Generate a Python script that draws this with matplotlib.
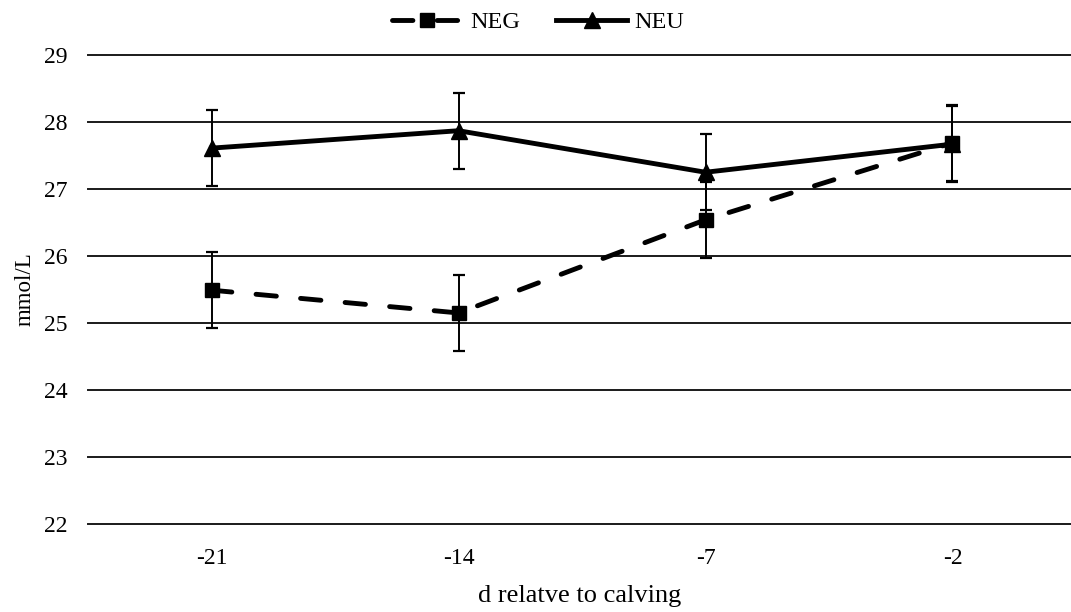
import matplotlib
matplotlib.use("Agg")
import matplotlib.pyplot as plt
import numpy as np

# Days relative to calving and group means (mmol/L) with standard errors
days = ["-21", "-14", "-7", "-2"]
neg_mean = [25.49, 25.15, 26.54, 27.69]
neu_mean = [27.61, 27.87, 27.25, 27.67]
neg_se = [0.57, 0.57, 0.57, 0.57]
neu_se = [0.57, 0.57, 0.57, 0.57]
yticks = [22, 23, 24, 25, 26, 27, 28, 29]

plt.rcParams["font.family"] = ["Liberation Serif", "DejaVu Serif"]

fig = plt.figure(figsize=(10.71, 6.12), dpi=100)
W, H = 1071, 612
left_px, right_px, top_px, bottom_px = 88, 1071, 55, 524
ax = fig.add_axes([left_px / W, 1 - bottom_px / H,
                   (right_px - left_px) / W, (bottom_px - top_px) / H])

x = np.arange(len(days))
step_px = 247.0
ax.set_xlim(-0.5, -0.5 + (right_px - left_px) / step_px)
ax.set_ylim(22, 29)

for yv in yticks:
    ax.axhline(yv, color="#1a1a1a", lw=1.4, zorder=1, clip_on=False)

err_kw = dict(fmt="none", ecolor="black", elinewidth=1.4, capsize=4.5,
              capthick=1.6, zorder=3)
ax.errorbar(x, neu_mean, yerr=neu_se, **err_kw)
ax.errorbar(x, neg_mean, yerr=neg_se, **err_kw)

neg_line, = ax.plot(x, neg_mean, color="black", lw=3.5, marker="s",
                    markersize=10.5, dash_capstyle="round", zorder=4,
                    label="NEG")
neg_line.set_dashes((4.2, 5.0))
neu_line, = ax.plot(x, neu_mean, color="black", lw=3.5, marker="^",
                    markersize=11, zorder=4, label="NEU")

ax.set_xticks(x)
ax.set_xticklabels(days)
ax.set_yticks(yticks)
ax.tick_params(axis="both", length=0, labelsize=17)
ax.tick_params(axis="y", pad=15)
ax.tick_params(axis="x", pad=17)
for s in ax.spines.values():
    s.set_visible(False)

ax.set_ylabel("mmol/L", fontsize=16.5, labelpad=6)
ax.set_xlabel("d relatve to calving", fontsize=19, labelpad=12)

fig.legend(handles=[neg_line, neu_line], loc="center",
           bbox_to_anchor=(538 / W, 1 - 22 / H), ncol=2, frameon=False,
           fontsize=17.5, handlelength=2.9, handletextpad=0.3,
           columnspacing=1.5)

fig.savefig("out.png", dpi=100)
